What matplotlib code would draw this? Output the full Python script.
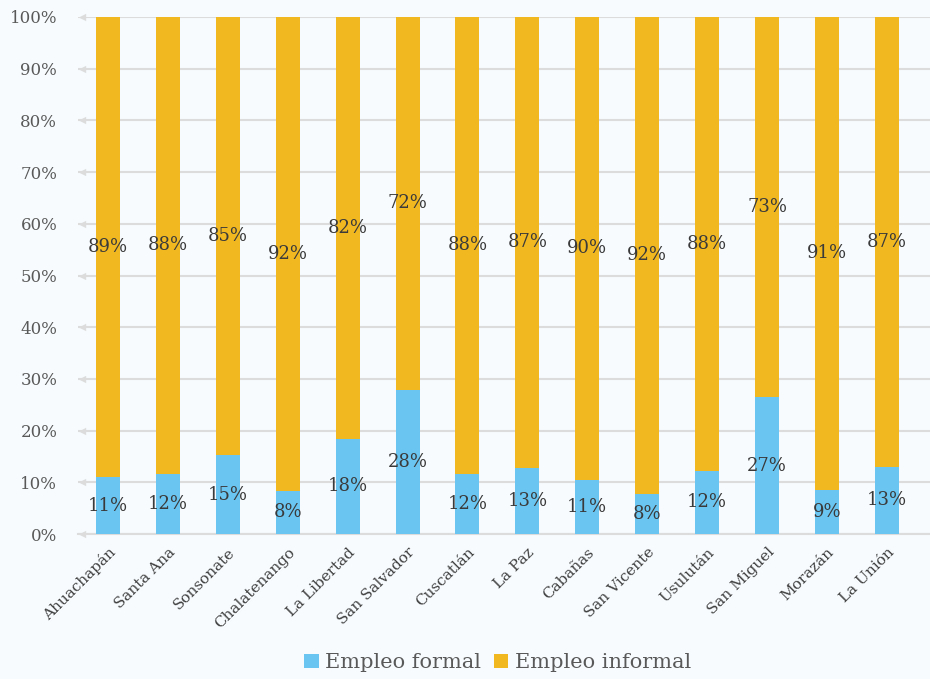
import matplotlib
matplotlib.use("Agg")
import matplotlib.pyplot as plt
import numpy as np

# datos por departamento (porcentaje del empleo)
departamentos = ["Ahuachapán", "Santa Ana", "Sonsonate", "Chalatenango", "La Libertad",
                 "San Salvador", "Cuscatlán", "La Paz", "Cabañas", "San Vicente",
                 "Usulután", "San Miguel", "Morazán", "La Unión"]
empleo_formal = [11.0, 11.7, 15.2, 8.4, 18.4, 27.9, 11.7, 12.8, 10.5, 7.8, 12.2, 26.5, 8.6, 13.0]
empleo_informal = [89.0, 88.3, 84.8, 91.6, 81.6, 72.1, 88.3, 87.2, 89.5, 92.2, 87.8, 73.5, 91.4, 87.0]
etiquetas_formal = ["11%", "12%", "15%", "8%", "18%", "28%", "12%", "13%", "11%", "8%", "12%", "27%", "9%", "13%"]
etiquetas_informal = ["89%", "88%", "85%", "92%", "82%", "72%", "88%", "87%", "90%", "92%", "88%", "73%", "91%", "87%"]
y_ticks = [0, 10, 20, 30, 40, 50, 60, 70, 80, 90, 100]

BG = "#F7FBFE"
BLUE = "#6AC5F1"
YELLOW = "#F2B820"
GRID = "#DCDCDC"

plt.rcParams["font.family"] = ["DejaVu Serif"]

fig = plt.figure(figsize=(9.3, 6.79), dpi=100, facecolor=BG)
ax = fig.add_axes([0.0839, 0.2135, 0.9161, 0.7615], facecolor=BG)

x = np.arange(len(departamentos))
ax.bar(x, empleo_formal, width=0.4, color=BLUE, label="Empleo formal", zorder=3)
ax.bar(x, empleo_informal, width=0.4, bottom=empleo_formal, color=YELLOW,
       label="Empleo informal", zorder=3)

for i in range(len(x)):
    ax.text(x[i], empleo_formal[i] / 2, etiquetas_formal[i], ha="center", va="center",
            fontsize=13, color="#3A3A3A", zorder=4)
    ax.text(x[i], empleo_formal[i] + empleo_informal[i] / 2, etiquetas_informal[i],
            ha="center", va="center", fontsize=13, color="#3A3A3A", zorder=4)

ax.set_xlim(-0.5, 13.72)
ax.set_ylim(0, 100)
ax.set_yticks(y_ticks)
ax.set_yticklabels([f"{v}%" for v in y_ticks], fontsize=12, color="#595959")
ax.set_xticks(x)
ax.set_xticklabels(departamentos, rotation=45, ha="right", rotation_mode="anchor",
                   fontsize=11, color="#404040")
ax.tick_params(axis="y", length=0, pad=15)
ax.tick_params(axis="x", length=0, pad=8)

for s in ["top", "right", "left"]:
    ax.spines[s].set_visible(False)
ax.spines["bottom"].set_color(GRID)
ax.spines["bottom"].set_linewidth(1.5)

ax.grid(axis="y", color=GRID, linewidth=1.5, zorder=0)
ax.set_axisbelow(True)
# small arrow heads at the left of each gridline
ax.scatter(np.full(len(y_ticks), -0.43), y_ticks, marker="<", s=28, color=GRID,
           clip_on=False, zorder=1, linewidths=0)

leg = fig.legend(loc="lower center", bbox_to_anchor=(0.535, -0.018), ncol=2, frameon=False,
                 fontsize=15, handlelength=0.7, handleheight=0.7, handletextpad=0.3,
                 columnspacing=0.6, labelcolor="#595959")

fig.savefig("out.png", dpi=100, facecolor=BG)
